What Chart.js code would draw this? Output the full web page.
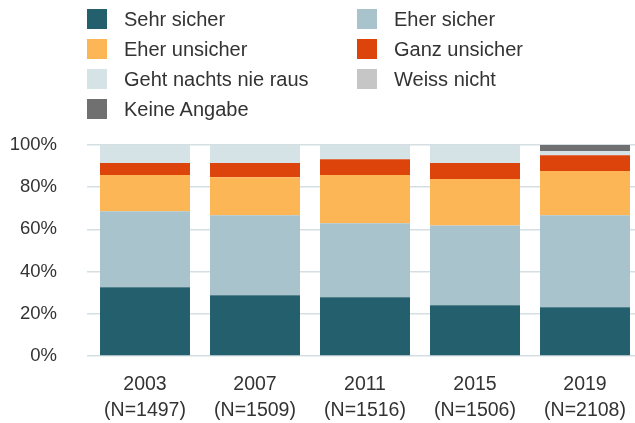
<!DOCTYPE html>
<html>
<head>
<meta charset="utf-8">
<script src="https://cdn.jsdelivr.net/npm/chart.js@4"></script>
<style>
  body { margin: 0; overflow: hidden; background: #fff; font-family: "Liberation Sans", Arial, sans-serif; }
  #wrap { position: relative; width: 640px; height: 423px; }
  #legend {
    position: absolute; left: 87px; top: 9px;
    display: grid; grid-template-columns: 270px auto; grid-auto-rows: 30px;
    font-size: 20px; color: #333;
  }
  .item { display: flex; align-items: center; height: 20px; }
  .box { width: 20px; height: 20px; margin-right: 17px; }
</style>
</head>
<body>
<div id="wrap">
  <div id="legend"></div>
  <canvas id="chart" width="640" height="423"></canvas>
</div>
<script>
// ======================
// Data
// ======================
const years = ["2003", "2007", "2011", "2015", "2019"];
const sampleSizes = ["(N=1497)", "(N=1509)", "(N=1516)", "(N=1506)", "(N=2108)"];

const sehrSicher = [32.6, 28.8, 27.8, 24.0, 23.1];
const eherSicher = [36.0, 37.9, 35.1, 37.9, 43.6];
const eherUnsicher = [17.2, 18.0, 22.9, 22.0, 21.0];
const ganzUnsicher = [5.7, 6.8, 7.4, 7.6, 7.4];
const gehtNie = [8.5, 8.5, 6.8, 8.5, 2.0];
const weissNicht = [0, 0, 0, 0, 0];
const keineAngabe = [0, 0, 0, 0, 2.9];

const yTicks = [0, 20, 40, 60, 80, 100];

// ======================
// Chart
// ======================
const labels = years.map((y, i) => [y, sampleSizes[i]]);

function ds(label, data, color) {
  return { label: label, data: data, backgroundColor: color, borderWidth: 0 };
}

const chart = new Chart(document.getElementById("chart"), {
  type: "bar",
  data: {
    labels: labels,
    datasets: [
      ds("Sehr sicher", sehrSicher, "#245f6d"),
      ds("Eher sicher", eherSicher, "#a8c3cc"),
      ds("Eher unsicher", eherUnsicher, "#fdb655"),
      ds("Ganz unsicher", ganzUnsicher, "#dc440c"),
      ds("Geht nachts nie raus", gehtNie, "#d5e3e7"),
      ds("Weiss nicht", weissNicht, "#c6c6c6"),
      ds("Keine Angabe", keineAngabe, "#707070")
    ]
  },
  options: {
    responsive: false,
    animation: false,
    barPercentage: 1,
    categoryPercentage: 0.818,
    layout: { padding: { top: 145, left: 0, right: 0, bottom: 0 } },
    plugins: { legend: { display: false }, tooltip: { enabled: false } },
    scales: {
      x: {
        stacked: true,
        grid: { display: false, drawTicks: false },
        border: { display: false },
        afterFit: (axis) => { axis.height = 67; axis.paddingLeft = 0; axis.paddingRight = 0; },
        ticks: {
          color: "#333",
          padding: 16,
          maxRotation: 0,
          font: { family: "Liberation Sans", size: 19.5, lineHeight: 1.33 }
        }
      },
      y: {
        stacked: true,
        min: 0,
        max: 100,
        afterBuildTicks: (axis) => { axis.ticks = yTicks.map(v => ({ value: v })); },
        afterFit: (axis) => { axis.width = 90; },
        grid: { color: "#d5dfe3", lineWidth: 1.5, drawTicks: true, tickLength: 3 },
        border: { display: false },
        ticks: {
          color: "#333",
          padding: 30,
          font: { family: "Liberation Sans", size: 18.5 },
          callback: (v) => v + "%"
        }
      }
    }
  }
});

// ======================
// HTML legend (two columns)
// ======================
const legendEl = document.getElementById("legend");
chart.data.datasets.forEach(d => {
  const item = document.createElement("div");
  item.className = "item";
  item.innerHTML = `<span class="box" style="background:${d.backgroundColor}"></span><span>${d.label}</span>`;
  legendEl.appendChild(item);
});
</script>
</body>
</html>
